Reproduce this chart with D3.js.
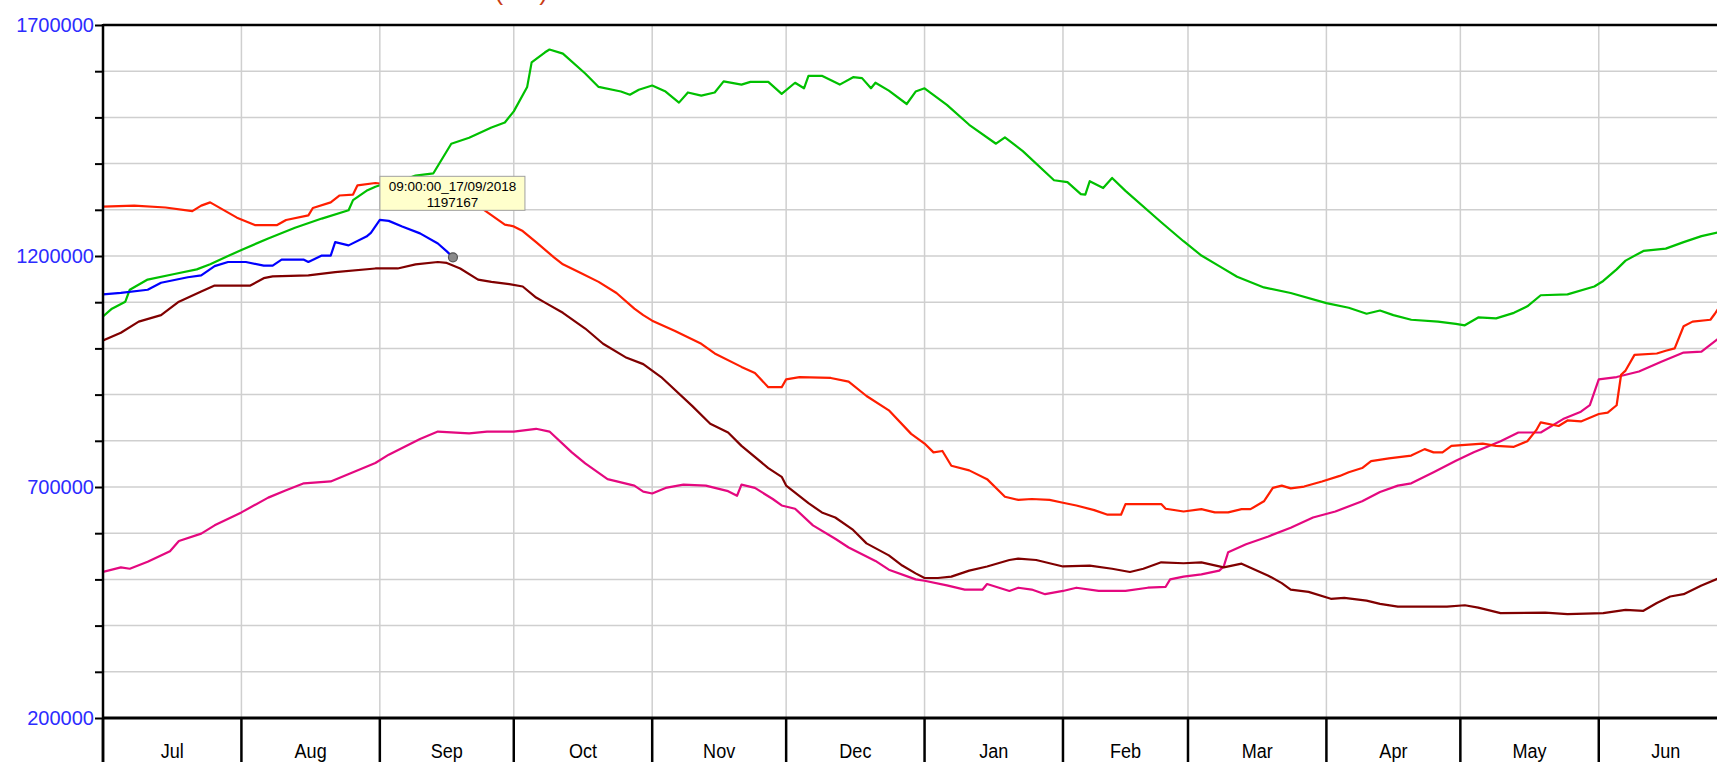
<!DOCTYPE html>
<html>
<head>
<meta charset="utf-8">
<script src="https://cdn.jsdelivr.net/npm/d3@7"></script>
<style>
  html, body { margin: 0; padding: 0; background: #fff; overflow: hidden; }
  svg { display: block; }
</style>
</head>
<body>
<svg id="chart" width="1717" height="762"></svg>
<script>
// season Jul 2018 - Jun 2019, storage volumes
const months = ['Jul', 'Aug', 'Sep', 'Oct', 'Nov', 'Dec', 'Jan', 'Feb', 'Mar', 'Apr', 'May', 'Jun'];
const yLabelTicks = [200000, 700000, 1200000, 1700000];
const titleText = 'Total Volume (ML)';

const redSeries = [
  ['2018-07-01', 1307000], ['2018-07-08', 1309000], ['2018-07-15', 1305000], ['2018-07-21', 1297000],
  ['2018-07-23', 1309000], ['2018-07-25', 1316000], ['2018-07-31', 1283000], ['2018-08-04', 1267000],
  ['2018-08-09', 1267000], ['2018-08-11', 1278000], ['2018-08-16', 1288000], ['2018-08-17', 1304000],
  ['2018-08-21', 1316000], ['2018-08-23', 1331000], ['2018-08-26', 1333000], ['2018-08-27', 1353000],
  ['2018-08-31', 1358000], ['2018-09-09', 1348000], ['2018-09-17', 1330000], ['2018-09-24', 1302000],
  ['2018-09-29', 1268000], ['2018-10-01', 1264000], ['2018-10-03', 1254000], ['2018-10-06', 1230000],
  ['2018-10-10', 1197000], ['2018-10-12', 1182000], ['2018-10-16', 1163000], ['2018-10-20', 1144000],
  ['2018-10-24', 1120000], ['2018-10-28', 1086000], ['2018-10-30', 1072000], ['2018-11-01', 1060000],
  ['2018-11-06', 1038000], ['2018-11-12', 1010000], ['2018-11-15', 989000], ['2018-11-21', 960000],
  ['2018-11-24', 947000], ['2018-11-27', 916000], ['2018-11-30', 916000], ['2018-12-01', 933000],
  ['2018-12-04', 938000], ['2018-12-11', 936000], ['2018-12-15', 928000], ['2018-12-19', 897000],
  ['2018-12-24', 866000], ['2018-12-29', 815000], ['2019-01-01', 794000], ['2019-01-03', 775000],
  ['2019-01-05', 778000], ['2019-01-07', 746000], ['2019-01-11', 736000], ['2019-01-15', 717000],
  ['2019-01-19', 679000], ['2019-01-22', 672000], ['2019-01-25', 674000], ['2019-01-29', 672000],
  ['2019-02-01', 666000], ['2019-02-04', 660000], ['2019-02-08', 650000], ['2019-02-11', 640000],
  ['2019-02-14', 640000], ['2019-02-15', 663000], ['2019-02-23', 663000], ['2019-02-24', 653000],
  ['2019-02-28', 647000], ['2019-03-04', 652000], ['2019-03-07', 645000], ['2019-03-10', 645000],
  ['2019-03-13', 652000], ['2019-03-15', 652000], ['2019-03-18', 669000], ['2019-03-20', 698000],
  ['2019-03-22', 703000], ['2019-03-24', 697000], ['2019-03-27', 701000], ['2019-03-31', 712000],
  ['2019-04-04', 724000], ['2019-04-06', 732000], ['2019-04-09', 741000], ['2019-04-11', 756000],
  ['2019-04-15', 762000], ['2019-04-20', 768000], ['2019-04-23', 782000], ['2019-04-25', 775000],
  ['2019-04-27', 775000], ['2019-04-29', 789000], ['2019-05-06', 794000], ['2019-05-09', 789000],
  ['2019-05-13', 787000], ['2019-05-16', 799000], ['2019-05-18', 823000], ['2019-05-19', 840000],
  ['2019-05-23', 832000], ['2019-05-25', 844000], ['2019-05-28', 842000], ['2019-06-01', 858000],
  ['2019-06-03', 861000], ['2019-06-05', 877000], ['2019-06-06', 943000], ['2019-06-07', 952000],
  ['2019-06-09', 986000], ['2019-06-14', 989000], ['2019-06-16', 995000], ['2019-06-18', 1000000],
  ['2019-06-20', 1048000], ['2019-06-22', 1058000], ['2019-06-26', 1062000], ['2019-06-27', 1075000],
  ['2019-06-28', 1090000]
];

const greenSeries = [
  ['2018-07-01', 1069000], ['2018-07-03', 1086000], ['2018-07-06', 1101000], ['2018-07-07', 1127000],
  ['2018-07-11', 1149000], ['2018-07-17', 1161000], ['2018-07-22', 1171000], ['2018-07-25', 1182000],
  ['2018-07-29', 1200000], ['2018-08-01', 1213000], ['2018-08-07', 1238000], ['2018-08-13', 1261000],
  ['2018-08-19', 1281000], ['2018-08-25', 1299000], ['2018-08-26', 1321000], ['2018-08-29', 1341000],
  ['2018-08-31', 1350000], ['2018-09-01', 1353000], ['2018-09-05', 1360000], ['2018-09-09', 1374000],
  ['2018-09-13', 1379000], ['2018-09-17', 1443000], ['2018-09-21', 1456000], ['2018-09-26', 1478000],
  ['2018-09-29', 1489000], ['2018-10-01', 1513000], ['2018-10-04', 1566000], ['2018-10-05', 1619000],
  ['2018-10-08', 1641000], ['2018-10-09', 1647000], ['2018-10-12', 1638000], ['2018-10-17', 1595000],
  ['2018-10-20', 1566000], ['2018-10-25', 1556000], ['2018-10-27', 1549000], ['2018-10-29', 1560000],
  ['2018-11-01', 1569000], ['2018-11-04', 1556000], ['2018-11-07', 1532000], ['2018-11-09', 1554000],
  ['2018-11-12', 1547000], ['2018-11-15', 1554000], ['2018-11-17', 1578000], ['2018-11-21', 1571000],
  ['2018-11-23', 1577000], ['2018-11-27', 1577000], ['2018-11-30', 1551000], ['2018-12-03', 1575000],
  ['2018-12-05', 1563000], ['2018-12-06', 1590000], ['2018-12-09', 1590000], ['2018-12-13', 1571000],
  ['2018-12-16', 1587000], ['2018-12-18', 1585000], ['2018-12-20', 1563000], ['2018-12-21', 1575000],
  ['2018-12-24', 1558000], ['2018-12-28', 1529000], ['2018-12-30', 1556000], ['2019-01-01', 1563000],
  ['2019-01-06', 1527000], ['2019-01-11', 1484000], ['2019-01-17', 1443000], ['2019-01-19', 1457000],
  ['2019-01-23', 1427000], ['2019-01-30', 1364000], ['2019-02-02', 1360000], ['2019-02-05', 1334000],
  ['2019-02-06', 1333000], ['2019-02-07', 1362000], ['2019-02-10', 1347000], ['2019-02-12', 1369000],
  ['2019-02-15', 1341000], ['2019-02-23', 1273000], ['2019-02-28', 1232000], ['2019-03-04', 1201000],
  ['2019-03-08', 1178000], ['2019-03-12', 1155000], ['2019-03-18', 1132000], ['2019-03-24', 1120000],
  ['2019-04-01', 1098000], ['2019-04-06', 1088000], ['2019-04-10', 1075000], ['2019-04-13', 1082000],
  ['2019-04-16', 1072000], ['2019-04-20', 1062000], ['2019-04-26', 1058000], ['2019-04-30', 1053000],
  ['2019-05-02', 1050000], ['2019-05-05', 1067000], ['2019-05-09', 1065000], ['2019-05-13', 1077000],
  ['2019-05-16', 1091000], ['2019-05-19', 1115000], ['2019-05-25', 1117000], ['2019-05-31', 1134000],
  ['2019-06-02', 1146000], ['2019-06-05', 1171000], ['2019-06-07', 1190000], ['2019-06-11', 1211000],
  ['2019-06-16', 1216000], ['2019-06-20', 1230000], ['2019-06-24', 1243000], ['2019-06-28', 1252000]
];

const blueSeries = [
  ['2018-07-01', 1117000], ['2018-07-05', 1120000], ['2018-07-11', 1127000], ['2018-07-14', 1142000],
  ['2018-07-20', 1154000], ['2018-07-23', 1158000], ['2018-07-26', 1178000], ['2018-07-29', 1187000],
  ['2018-08-02', 1187000], ['2018-08-06', 1179000], ['2018-08-08', 1179000], ['2018-08-10', 1192000],
  ['2018-08-15', 1192000], ['2018-08-16', 1187000], ['2018-08-19', 1201000], ['2018-08-21', 1201000],
  ['2018-08-22', 1230000], ['2018-08-25', 1223000], ['2018-08-29', 1242000], ['2018-08-30', 1250000],
  ['2018-09-01', 1278000], ['2018-09-03', 1276000], ['2018-09-06', 1264000], ['2018-09-10', 1249000],
  ['2018-09-14', 1227000], ['2018-09-16', 1210000], ['2018-09-17T09:00:00Z', 1197167]
];

const maroonSeries = [
  ['2018-07-01', 1017000], ['2018-07-05', 1034000], ['2018-07-09', 1058000], ['2018-07-14', 1072000],
  ['2018-07-18', 1101000], ['2018-07-23', 1123000], ['2018-07-26', 1136000], ['2018-08-03', 1136000],
  ['2018-08-06', 1152000], ['2018-08-08', 1156000], ['2018-08-16', 1158000], ['2018-08-22', 1165000],
  ['2018-08-31', 1173000], ['2018-09-05', 1173000], ['2018-09-09', 1182000], ['2018-09-14', 1187000],
  ['2018-09-16', 1185000], ['2018-09-19', 1173000], ['2018-09-23', 1149000], ['2018-09-26', 1144000],
  ['2018-09-30', 1139000], ['2018-10-03', 1134000], ['2018-10-06', 1110000], ['2018-10-08', 1099000],
  ['2018-10-12', 1077000], ['2018-10-17', 1043000], ['2018-10-21', 1010000], ['2018-10-26', 981000],
  ['2018-10-30', 966000], ['2018-11-03', 938000], ['2018-11-10', 875000], ['2018-11-14', 837000],
  ['2018-11-18', 818000], ['2018-11-21', 789000], ['2018-11-27', 741000], ['2018-11-30', 722000],
  ['2018-12-01', 703000], ['2018-12-06', 665000], ['2018-12-09', 645000], ['2018-12-12', 634000],
  ['2018-12-16', 607000], ['2018-12-19', 578000], ['2018-12-24', 552000], ['2018-12-27', 530000],
  ['2018-12-30', 513000], ['2019-01-01', 503000], ['2019-01-04', 503000], ['2019-01-07', 506000],
  ['2019-01-11', 519000], ['2019-01-15', 528000], ['2019-01-20', 542000], ['2019-01-22', 545000],
  ['2019-01-26', 542000], ['2019-01-29', 535000], ['2019-02-01', 528000], ['2019-02-07', 530000],
  ['2019-02-12', 523000], ['2019-02-16', 516000], ['2019-02-19', 523000], ['2019-02-23', 537000],
  ['2019-02-28', 535000], ['2019-03-04', 537000], ['2019-03-09', 526000], ['2019-03-13', 534000],
  ['2019-03-19', 508000], ['2019-03-22', 492000], ['2019-03-24', 478000], ['2019-03-28', 473000],
  ['2019-04-02', 458000], ['2019-04-05', 460000], ['2019-04-10', 454000], ['2019-04-13', 447000],
  ['2019-04-17', 441000], ['2019-04-28', 441000], ['2019-05-02', 444000], ['2019-05-05', 439000],
  ['2019-05-10', 427000], ['2019-05-20', 428000], ['2019-05-25', 425000], ['2019-06-02', 427000],
  ['2019-06-07', 434000], ['2019-06-11', 432000], ['2019-06-14', 449000], ['2019-06-17', 463000],
  ['2019-06-20', 468000], ['2019-06-24', 487000], ['2019-06-28', 503000]
];

const magentaSeries = [
  ['2018-07-01', 516000], ['2018-07-05', 526000], ['2018-07-07', 523000], ['2018-07-11', 538000],
  ['2018-07-16', 561000], ['2018-07-18', 583000], ['2018-07-23', 599000], ['2018-07-26', 617000],
  ['2018-08-01', 645000], ['2018-08-07', 677000], ['2018-08-11', 693000], ['2018-08-15', 708000],
  ['2018-08-21', 712000], ['2018-08-26', 732000], ['2018-08-31', 752000], ['2018-09-03', 770000],
  ['2018-09-10', 804000], ['2018-09-14', 820000], ['2018-09-21', 816000], ['2018-09-25', 820000],
  ['2018-10-01', 820000], ['2018-10-06', 826000], ['2018-10-09', 820000], ['2018-10-14', 775000],
  ['2018-10-17', 751000], ['2018-10-22', 717000], ['2018-10-28', 703000], ['2018-10-30', 690000],
  ['2018-11-01', 686000], ['2018-11-04', 698000], ['2018-11-08', 705000], ['2018-11-13', 703000],
  ['2018-11-18', 691000], ['2018-11-20', 681000], ['2018-11-21', 705000], ['2018-11-24', 698000],
  ['2018-11-28', 674000], ['2018-11-30', 660000], ['2018-12-03', 653000], ['2018-12-07', 617000],
  ['2018-12-12', 588000], ['2018-12-15', 569000], ['2018-12-21', 540000], ['2018-12-24', 521000],
  ['2018-12-30', 500000], ['2019-01-01', 497000], ['2019-01-06', 487000], ['2019-01-10', 478000],
  ['2019-01-14', 478000], ['2019-01-15', 490000], ['2019-01-20', 475000], ['2019-01-22', 482000],
  ['2019-01-25', 478000], ['2019-01-28', 468000], ['2019-02-01', 475000], ['2019-02-04', 482000],
  ['2019-02-09', 475000], ['2019-02-15', 475000], ['2019-02-20', 482000], ['2019-02-24', 484000],
  ['2019-02-25', 500000], ['2019-02-28', 506000], ['2019-03-04', 511000], ['2019-03-08', 519000],
  ['2019-03-09', 528000], ['2019-03-10', 559000], ['2019-03-14', 576000], ['2019-03-19', 593000],
  ['2019-03-24', 612000], ['2019-03-29', 634000], ['2019-04-03', 647000], ['2019-04-09', 669000],
  ['2019-04-13', 689000], ['2019-04-17', 703000], ['2019-04-20', 708000], ['2019-04-25', 732000],
  ['2019-04-30', 757000], ['2019-05-04', 775000], ['2019-05-10', 799000], ['2019-05-14', 818000],
  ['2019-05-19', 818000], ['2019-05-24', 847000], ['2019-05-28', 863000], ['2019-05-30', 877000],
  ['2019-06-01', 933000], ['2019-06-05', 938000], ['2019-06-10', 950000], ['2019-06-15', 971000],
  ['2019-06-20', 991000], ['2019-06-24', 993000], ['2019-06-28', 1023000]
];

// draw order: back to front
const series = [
  { name: 'magenta', color: '#e4087f', values: magentaSeries },
  { name: 'maroon', color: '#800000', values: maroonSeries },
  { name: 'red', color: '#ff1e00', values: redSeries },
  { name: 'green', color: '#00c000', values: greenSeries },
  { name: 'blue', color: '#0000ff', values: blueSeries },
];

const W = 1717, H = 762;
const plotLeft = 103, plotTop = 25, plotBottom = 718;
const dayPx = 4.465;

const parseDate = s => new Date(s.length === 10 ? s + 'T00:00:00Z' : s);
const start = parseDate('2018-07-01');
const end = parseDate('2019-07-01');

const x = d3.scaleUtc().domain([start, end]).range([plotLeft, plotLeft + 365 * dayPx]);
const y = d3.scaleLinear().domain([200000, 1700000]).range([plotBottom, plotTop]);

const svg = d3.select('#chart');

svg.append('defs').append('clipPath').attr('id', 'plot-clip')
  .append('rect')
  .attr('x', plotLeft).attr('y', plotTop)
  .attr('width', W - plotLeft).attr('height', plotBottom - plotTop);

// title sits above the window, only the bottom of the brackets peeks in
svg.append('text')
  .attr('x', 548).attr('y', 0)
  .attr('text-anchor', 'end')
  .attr('font-family', 'Liberation Sans, Arial, sans-serif')
  .attr('font-size', 26)
  .attr('fill', '#c83c14')
  .text(titleText);

// grid
const yGrid = d3.range(300000, 1700000, 100000);
const monthStarts = d3.utcMonth.range(start, end);

svg.append('g').attr('class', 'grid-y')
  .selectAll('line').data(yGrid).join('line')
  .attr('x1', plotLeft).attr('x2', W)
  .attr('y1', d => y(d)).attr('y2', d => y(d))
  .attr('stroke', '#cfcfcf').attr('stroke-width', 1.5);

svg.append('g').attr('class', 'grid-x')
  .selectAll('line').data(monthStarts.slice(1)).join('line')
  .attr('x1', d => x(d)).attr('x2', d => x(d))
  .attr('y1', plotTop).attr('y2', plotBottom)
  .attr('stroke', '#cfcfcf').attr('stroke-width', 1.5);

// series lines
const line = d3.line()
  .x(d => x(parseDate(d[0])))
  .y(d => y(d[1]));

svg.append('g').attr('clip-path', 'url(#plot-clip)')
  .selectAll('path').data(series).join('path')
  .attr('d', d => line(d.values))
  .attr('fill', 'none')
  .attr('stroke', d => d.color)
  .attr('stroke-width', 2.2)
  .attr('stroke-linejoin', 'round');

// frame
svg.append('line')
  .attr('x1', plotLeft).attr('x2', W).attr('y1', plotTop).attr('y2', plotTop)
  .attr('stroke', '#000').attr('stroke-width', 2.5);
svg.append('line')
  .attr('x1', plotLeft).attr('x2', W).attr('y1', plotBottom).attr('y2', plotBottom)
  .attr('stroke', '#000').attr('stroke-width', 3);
svg.append('line')
  .attr('x1', plotLeft).attr('x2', plotLeft).attr('y1', plotTop - 1).attr('y2', H)
  .attr('stroke', '#000').attr('stroke-width', 2.5);

// y axis ticks and labels
const yAxis = d3.axisLeft(y)
  .tickValues(d3.range(200000, 1700001, 100000))
  .tickSize(8)
  .tickPadding(1)
  .tickFormat(d => yLabelTicks.includes(d) ? d3.format('d')(d) : '');

const gy = svg.append('g').attr('transform', `translate(${plotLeft},0)`).call(yAxis);
gy.select('.domain').remove();
gy.selectAll('.tick line').attr('stroke', '#000').attr('stroke-width', 2);
gy.selectAll('.tick text')
  .attr('font-family', 'Liberation Sans, Arial, sans-serif')
  .attr('font-size', 20)
  .attr('fill', '#2c2cff')
  .attr('dy', '0.3em');

// month dividers and labels below the axis
svg.append('g').attr('class', 'month-ticks')
  .selectAll('line').data(monthStarts).join('line')
  .attr('x1', d => x(d)).attr('x2', d => x(d))
  .attr('y1', plotBottom).attr('y2', H)
  .attr('stroke', '#000').attr('stroke-width', 2.5);

// narrow look: squeeze the labels horizontally
svg.append('g').attr('class', 'month-labels')
  .selectAll('text').data(monthStarts).join('text')
  .attr('transform', d => `translate(${(x(d) + x(d3.utcMonth.offset(d, 1))) / 2},758) scale(0.86,1)`)
  .attr('text-anchor', 'middle')
  .attr('font-family', 'Liberation Sans, Arial, sans-serif')
  .attr('font-size', 21)
  .attr('fill', '#000')
  .text((d, i) => months[i]);

// hover marker and tooltip on the last point of the current season
const last = blueSeries[blueSeries.length - 1];
const lastDate = parseDate(last[0]);
const px = x(lastDate), py = y(last[1]);

const tip = svg.append('g').attr('transform', `translate(${px - 73},${py - 81})`);
tip.append('rect')
  .attr('width', 145).attr('height', 34)
  .attr('fill', '#ffffcc')
  .attr('stroke', '#a0a0a0').attr('stroke-width', 1);
tip.append('text')
  .attr('x', 72.5).attr('y', 14.5)
  .attr('text-anchor', 'middle')
  .attr('font-family', 'Liberation Sans, Arial, sans-serif')
  .attr('font-size', 13.5)
  .attr('fill', '#000')
  .text(d3.utcFormat('%H:%M:%S_%d/%m/%Y')(lastDate));
tip.append('text')
  .attr('x', 72.5).attr('y', 30.5)
  .attr('text-anchor', 'middle')
  .attr('font-family', 'Liberation Sans, Arial, sans-serif')
  .attr('font-size', 13.5)
  .attr('fill', '#000')
  .text(last[1]);

svg.append('circle')
  .attr('cx', px).attr('cy', py).attr('r', 4.5)
  .attr('fill', '#8a8a8a')
  .attr('stroke', '#555').attr('stroke-width', 1.2);
</script>
</body>
</html>
